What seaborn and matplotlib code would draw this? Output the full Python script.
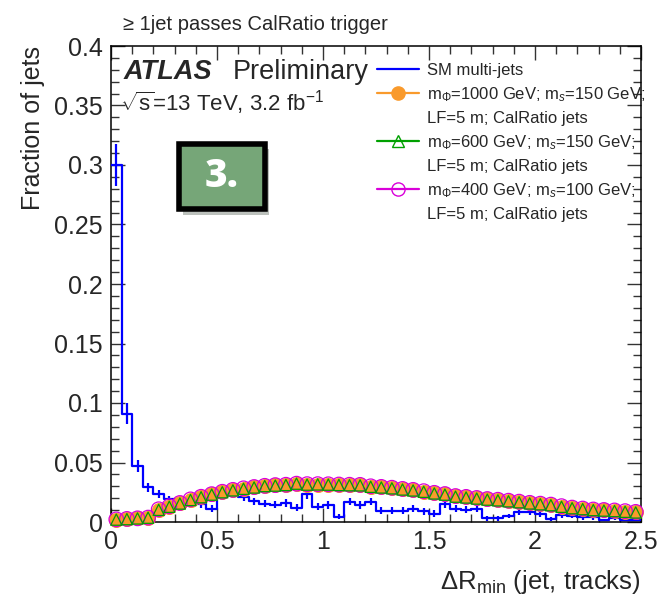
import numpy as np
import pandas as pd
import matplotlib
matplotlib.use('Agg')
import matplotlib.pyplot as plt
import matplotlib.patches as mpatches
import matplotlib.patheffects as pe
from matplotlib.lines import Line2D
from matplotlib.ticker import MultipleLocator
import seaborn as sns

# bin edges of the dR_min histogram (50 bins of 0.05)
bin_edges = np.linspace(0, 2.5, 51)
bin_centers = 0.5 * (bin_edges[:-1] + bin_edges[1:])

# SM multi-jets
sm_frac = [0.300, 0.091, 0.047, 0.029, 0.0235, 0.019, 0.018, 0.018, 0.015, 0.011,
           0.027, 0.024, 0.021, 0.0175, 0.0155, 0.0145, 0.016, 0.012, 0.0235, 0.013,
           0.0143, 0.0045, 0.017, 0.0143, 0.017, 0.0095, 0.0095, 0.0095, 0.011, 0.009,
           0.007, 0.015, 0.011, 0.0105, 0.011, 0.0032, 0.0032, 0.005, 0.0085, 0.0087,
           0.007, 0.0025, 0.0055, 0.005, 0.004, 0.004, 0.0017, 0.0035, 0.0017, 0.0017]
sm_err = [0.018, 0.009, 0.005, 0.004, 0.003, 0.003, 0.003, 0.003, 0.003, 0.003,
          0.004, 0.003, 0.003, 0.003, 0.003, 0.003, 0.003, 0.003, 0.004, 0.003,
          0.003, 0.002, 0.003, 0.003, 0.003, 0.003, 0.003, 0.003, 0.003, 0.003,
          0.003, 0.003, 0.003, 0.003, 0.003, 0.002, 0.002, 0.002, 0.003, 0.003,
          0.003, 0.002, 0.002, 0.002, 0.002, 0.002, 0.001, 0.002, 0.001, 0.001]

# signal samples
sig_1000_150 = [0.002, 0.0025, 0.003, 0.0035, 0.0105, 0.013, 0.0158, 0.0188, 0.021, 0.0232,
                0.0252, 0.0268, 0.028, 0.0292, 0.0302, 0.0308, 0.031, 0.032, 0.0315, 0.0315,
                0.0315, 0.0313, 0.031, 0.031, 0.0298, 0.0292, 0.0285, 0.0275, 0.0268, 0.0256,
                0.0242, 0.0232, 0.0215, 0.0208, 0.0199, 0.019, 0.0184, 0.0176, 0.0168, 0.0158,
                0.0151, 0.0143, 0.013, 0.0118, 0.011, 0.0102, 0.0098, 0.0094, 0.0088, 0.0082]
sig_600_150 = [0.002, 0.0024, 0.003, 0.0036, 0.0102, 0.0128, 0.0155, 0.0185, 0.0208, 0.023,
               0.025, 0.0266, 0.0279, 0.029, 0.0302, 0.0306, 0.0311, 0.0322, 0.0314, 0.0316,
               0.0314, 0.0311, 0.0309, 0.0308, 0.0296, 0.029, 0.0283, 0.0273, 0.0265, 0.0254,
               0.024, 0.023, 0.0213, 0.0206, 0.0197, 0.0188, 0.0182, 0.0174, 0.0166, 0.0156,
               0.0149, 0.0141, 0.0128, 0.0116, 0.0108, 0.01, 0.0096, 0.0092, 0.0086, 0.008]
sig_400_100 = [0.0022, 0.0026, 0.0031, 0.0037, 0.0107, 0.0132, 0.016, 0.019, 0.0212, 0.0234,
               0.0254, 0.027, 0.0283, 0.0294, 0.0304, 0.031, 0.0313, 0.0322, 0.0318, 0.0318,
               0.0317, 0.0315, 0.0313, 0.0312, 0.03, 0.0295, 0.0288, 0.0278, 0.027, 0.0259,
               0.0245, 0.0235, 0.0218, 0.0211, 0.0202, 0.0193, 0.0187, 0.0179, 0.0171, 0.0161,
               0.0154, 0.0146, 0.0133, 0.0121, 0.0113, 0.0105, 0.0101, 0.0097, 0.0091, 0.0085]

df = pd.DataFrame({'dR': bin_centers, 'sm': sm_frac, 'sm_err': sm_err,
                   's1000': sig_1000_150, 's600': sig_600_150, 's400': sig_400_100})

blue = '#0000ff'
orange = '#f99a2c'
green = '#00a000'
magenta = '#d900d9'

sns.set_style('ticks')
plt.rcParams['font.family'] = ['Liberation Sans', 'DejaVu Sans']
plt.rcParams['mathtext.fontset'] = 'custom'
plt.rcParams['mathtext.rm'] = 'Liberation Sans'
plt.rcParams['mathtext.it'] = 'Liberation Sans:italic'

fig = plt.figure(figsize=(6.64, 6.0), dpi=100)
ax = fig.add_axes([111 / 664, 1 - 522 / 600, 530 / 664, 476 / 600])

# SM histogram as a step line with error bars
sns.histplot(data=df, x='dR', weights='sm', binwidth=0.05, binrange=(0, 2.5),
             element='step', fill=False, color=blue, linewidth=1.6, ax=ax, zorder=3)
ax.errorbar(df['dR'], df['sm'], yerr=df['sm_err'], fmt='none', ecolor=blue,
            elinewidth=1.6, capsize=0, zorder=3)

# signal markers
sns.scatterplot(data=df, x='dR', y='s1000', marker='o', s=100, color=orange,
                edgecolor=orange, linewidth=0.8, ax=ax, zorder=4, clip_on=False)
sns.scatterplot(data=df, x='dR', y='s400', marker='o', s=110, facecolor='none',
                edgecolor=magenta, linewidth=0.9, ax=ax, zorder=5, clip_on=False)
sns.scatterplot(data=df, x='dR', y='s600', marker='^', s=65, facecolor='none',
                edgecolor=green, linewidth=0.9, ax=ax, zorder=6, clip_on=False)

ax.set_xlim(0, 2.5)
ax.set_ylim(0, 0.4)
ax.xaxis.set_major_locator(MultipleLocator(0.5))
ax.xaxis.set_minor_locator(MultipleLocator(0.1))
ax.yaxis.set_major_locator(MultipleLocator(0.05))
ax.yaxis.set_minor_locator(MultipleLocator(0.01))
ax.xaxis.set_major_formatter(plt.FuncFormatter(lambda v, p: f'{v:g}'))
ax.yaxis.set_major_formatter(plt.FuncFormatter(lambda v, p: f'{v:g}'))
ax.tick_params(which='both', direction='in', top=True, right=True, labelsize=18,
               color='#333333', width=1.0)
ax.tick_params(which='major', length=10)
ax.tick_params(which='minor', length=5.5)
ax.tick_params(axis='x', pad=6)
ax.tick_params(axis='y', pad=6)
for sp in ax.spines.values():
    sp.set_linewidth(1.1)
    sp.set_color('black')

ax.set_ylabel('Fraction of jets', fontsize=18, loc='top')
ax.yaxis.set_label_coords(-0.125, 1.0)
ax.set_xlabel(r'Δ$\mathregular{R_{min}}$ (jet, tracks)', fontsize=18.5, loc='right')
ax.xaxis.set_label_coords(1.0, -0.097)

fig.text(123 / 664, 1 - 25 / 600, '≥ 1jet passes CalRatio trigger', fontsize=14.5,
         ha='left', va='center')

ax.text(0.023, 0.945, 'ATLAS', transform=ax.transAxes, fontsize=19.5, fontweight='bold',
        fontstyle='italic', ha='left', va='center')
ax.text(0.23, 0.945, 'Preliminary', transform=ax.transAxes, fontsize=19.5,
        ha='left', va='center')
ax.text(0.017, 0.88, r'$\sqrt{\mathrm{s}}$=13 TeV, 3.2 fb$^{\mathregular{-1}}$',
        transform=ax.transAxes, fontsize=16, ha='left', va='center')

# legend, second text lines as empty entries
empty = Line2D([], [], linestyle='none')
handles = [Line2D([], [], color=blue, lw=1.6),
           Line2D([], [], color=orange, lw=1.6, marker='o', markersize=9.5),
           empty,
           Line2D([], [], color=green, lw=1.6, marker='^', markersize=9,
                  markerfacecolor='none'),
           empty,
           Line2D([], [], color=magenta, lw=1.6, marker='o', markersize=9.5,
                  markerfacecolor='none'),
           empty]
labels = ['SM multi-jets',
          r'm$_{\Phi}$=1000 GeV; m$_{s}$=150 GeV;', 'LF=5 m; CalRatio jets',
          r'm$_{\Phi}$=600 GeV; m$_{s}$=150 GeV;', 'LF=5 m; CalRatio jets',
          r'm$_{\Phi}$=400 GeV; m$_{s}$=100 GeV;', 'LF=5 m; CalRatio jets']
ax.legend(handles, labels, loc='upper left', bbox_to_anchor=(0.49, 0.979),
          frameon=False, fontsize=12, handlelength=2.5, handletextpad=0.5,
          labelspacing=0.43, borderaxespad=0)

# the "3." label box
box = mpatches.Rectangle((0.128, 0.657), 0.162, 0.138, transform=ax.transAxes,
                         facecolor='#76a678', edgecolor='black', linewidth=4, zorder=7,
                         path_effects=[pe.SimplePatchShadow(offset=(3, -4), alpha=0.3),
                                       pe.Normal()])
ax.add_patch(box)
ax.text(0.209, 0.726, '3.', transform=ax.transAxes, fontsize=28, fontweight='heavy',
        family='Open Sans', color='white', ha='center', va='center', zorder=8)

fig.savefig('out.png', dpi=100)
